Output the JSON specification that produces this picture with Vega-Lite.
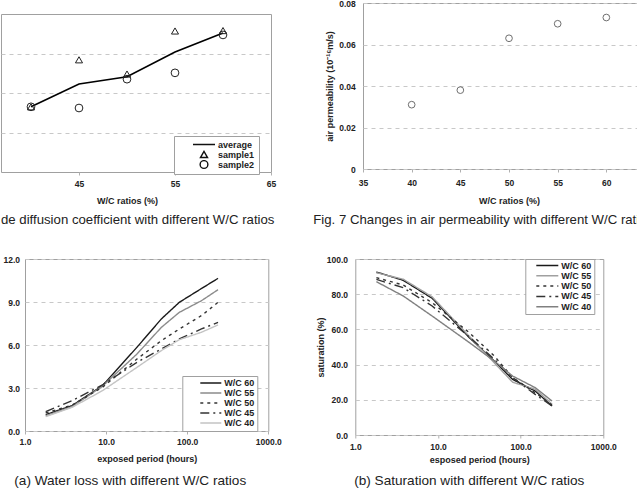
{
  "$schema": "https://vega.github.io/schema/vega-lite/v6.json",
  "padding": {"top": -2, "left": 0, "right": 0, "bottom": 0},
  "background": "white",
  "config": {
    "font": "Liberation Sans",
    "view": {"stroke": "#a0a0a0", "strokeWidth": 1},
    "axis": {
      "labelFont": "Liberation Sans", "labelFontWeight": "bold", "labelFontSize": 8.5, "labelColor": "#222",
      "titleFont": "Liberation Sans", "titleFontWeight": "bold", "titleFontSize": 9, "titleColor": "#222",
      "gridColor": "#c8c8c8", "gridDash": [4, 4], "domain": false, "tickColor": "#b0b0b0", "tickSize": 3,
      "labelFlush": false
    },
    "legend": {
      "labelFont": "Liberation Sans", "labelFontWeight": "bold", "labelFontSize": 9, "labelColor": "#222",
      "strokeColor": "#a0a0a0", "fillColor": "white"
    },
    "title": {"font": "Liberation Sans", "fontSize": 13.2, "fontWeight": "normal", "color": "#222"}
  },
  "datasets": {
    "fig6": [
      {"wc": 40, "series": "average", "v": 1.65}, {"wc": 45, "series": "average", "v": 2.23}, {"wc": 50, "series": "average", "v": 2.41}, {"wc": 55, "series": "average", "v": 3.04}, {"wc": 60, "series": "average", "v": 3.52},
      {"wc": 40, "series": "sample1", "v": 1.65}, {"wc": 45, "series": "sample1", "v": 2.84}, {"wc": 50, "series": "sample1", "v": 2.48}, {"wc": 55, "series": "sample1", "v": 3.57}, {"wc": 60, "series": "sample1", "v": 3.58},
      {"wc": 40, "series": "sample2", "v": 1.65}, {"wc": 45, "series": "sample2", "v": 1.62}, {"wc": 50, "series": "sample2", "v": 2.35}, {"wc": 55, "series": "sample2", "v": 2.51}, {"wc": 60, "series": "sample2", "v": 3.47}
    ],
    "fig7": [
      {"wc": 40, "k": 0.031}, {"wc": 45, "k": 0.038}, {"wc": 50, "k": 0.063}, {"wc": 55, "k": 0.070}, {"wc": 60, "k": 0.073}
    ],
    "loss": [
      {"h": 1.8, "s": "W/C 60", "v": 1.14}, {"h": 3.8, "s": "W/C 60", "v": 1.77}, {"h": 9, "s": "W/C 60", "v": 3.16}, {"h": 24, "s": "W/C 60", "v": 5.84}, {"h": 48, "s": "W/C 60", "v": 7.82}, {"h": 80, "s": "W/C 60", "v": 8.98}, {"h": 150, "s": "W/C 60", "v": 9.94}, {"h": 240, "s": "W/C 60", "v": 10.65},
      {"h": 1.8, "s": "W/C 55", "v": 1.07}, {"h": 3.8, "s": "W/C 55", "v": 1.70}, {"h": 9, "s": "W/C 55", "v": 3.12}, {"h": 24, "s": "W/C 55", "v": 5.37}, {"h": 48, "s": "W/C 55", "v": 7.23}, {"h": 80, "s": "W/C 55", "v": 8.28}, {"h": 150, "s": "W/C 55", "v": 9.09}, {"h": 240, "s": "W/C 55", "v": 9.86},
      {"h": 1.8, "s": "W/C 50", "v": 1.26}, {"h": 3.8, "s": "W/C 50", "v": 1.80}, {"h": 9, "s": "W/C 50", "v": 3.05}, {"h": 24, "s": "W/C 50", "v": 5.02}, {"h": 48, "s": "W/C 50", "v": 6.30}, {"h": 80, "s": "W/C 50", "v": 7.12}, {"h": 150, "s": "W/C 50", "v": 8.05}, {"h": 240, "s": "W/C 50", "v": 8.98},
      {"h": 1.8, "s": "W/C 45", "v": 1.35}, {"h": 3.8, "s": "W/C 45", "v": 2.12}, {"h": 9, "s": "W/C 45", "v": 3.21}, {"h": 24, "s": "W/C 45", "v": 4.79}, {"h": 48, "s": "W/C 45", "v": 5.72}, {"h": 80, "s": "W/C 45", "v": 6.42}, {"h": 150, "s": "W/C 45", "v": 7.12}, {"h": 240, "s": "W/C 45", "v": 7.58},
      {"h": 1.8, "s": "W/C 40", "v": 1.00}, {"h": 3.8, "s": "W/C 40", "v": 1.65}, {"h": 9, "s": "W/C 40", "v": 2.81}, {"h": 24, "s": "W/C 40", "v": 4.44}, {"h": 48, "s": "W/C 40", "v": 5.61}, {"h": 80, "s": "W/C 40", "v": 6.37}, {"h": 150, "s": "W/C 40", "v": 6.89}, {"h": 240, "s": "W/C 40", "v": 7.40}
    ],
    "sat": [
      {"h": 1.8, "s": "W/C 60", "v": 92.6}, {"h": 3.8, "s": "W/C 60", "v": 87.9}, {"h": 8.5, "s": "W/C 60", "v": 77.7}, {"h": 24, "s": "W/C 60", "v": 55.3}, {"h": 48, "s": "W/C 60", "v": 42.0}, {"h": 80, "s": "W/C 60", "v": 31.6}, {"h": 150, "s": "W/C 60", "v": 25.0}, {"h": 240, "s": "W/C 60", "v": 16.5},
      {"h": 1.8, "s": "W/C 55", "v": 92.2}, {"h": 3.8, "s": "W/C 55", "v": 88.5}, {"h": 8.5, "s": "W/C 55", "v": 78.5}, {"h": 24, "s": "W/C 55", "v": 56.0}, {"h": 48, "s": "W/C 55", "v": 41.0}, {"h": 80, "s": "W/C 55", "v": 30.0}, {"h": 150, "s": "W/C 55", "v": 26.0}, {"h": 240, "s": "W/C 55", "v": 17.5},
      {"h": 1.8, "s": "W/C 50", "v": 89.4}, {"h": 3.8, "s": "W/C 50", "v": 85.2}, {"h": 8.5, "s": "W/C 50", "v": 75.2}, {"h": 24, "s": "W/C 50", "v": 58.1}, {"h": 48, "s": "W/C 50", "v": 44.9}, {"h": 80, "s": "W/C 50", "v": 32.6}, {"h": 150, "s": "W/C 50", "v": 24.0}, {"h": 240, "s": "W/C 50", "v": 17.0},
      {"h": 1.8, "s": "W/C 45", "v": 88.4}, {"h": 3.8, "s": "W/C 45", "v": 83.7}, {"h": 8.5, "s": "W/C 45", "v": 73.3}, {"h": 24, "s": "W/C 45", "v": 55.7}, {"h": 48, "s": "W/C 45", "v": 43.0}, {"h": 80, "s": "W/C 45", "v": 32.6}, {"h": 150, "s": "W/C 45", "v": 23.1}, {"h": 240, "s": "W/C 45", "v": 16.5},
      {"h": 1.8, "s": "W/C 40", "v": 87.1}, {"h": 3.8, "s": "W/C 40", "v": 79.0}, {"h": 8.5, "s": "W/C 40", "v": 67.6}, {"h": 24, "s": "W/C 40", "v": 52.5}, {"h": 48, "s": "W/C 40", "v": 42.0}, {"h": 80, "s": "W/C 40", "v": 33.5}, {"h": 150, "s": "W/C 40", "v": 26.9}, {"h": 240, "s": "W/C 40", "v": 19.3}
    ]
  },
  "spacing": 27,
  "resolve": {
    "scale": {"color": "independent", "strokeDash": "independent", "shape": "independent", "size": "independent"},
    "legend": {"color": "independent", "strokeDash": "independent", "shape": "independent", "size": "independent"}
  },
  "vconcat": [
    {
      "spacing": 35,
      "resolve": {
        "scale": {"shape": "independent", "size": "independent"},
        "legend": {"shape": "independent", "size": "independent"}
      },
      "hconcat": [
        {
          "spacing": 9,
          "resolve": {
            "scale": {"shape": "independent", "size": "independent"},
            "legend": {"shape": "independent", "size": "independent"}
          },
          "vconcat": [
            {"width": 1, "height": 1, "view": {"stroke": null}, "data": {"values": []}, "mark": "point"},
            {
              "width": 270, "height": 158,
              "title": {"text": "de diffusion coefficient with different W/C ratios", "orient": "bottom", "anchor": "start", "frame": "group", "offset": 9},
              "data": {"name": "fig6"},
              "layer": [
                {
                  "transform": [{"filter": "datum.series === 'average'"}],
                  "mark": {"type": "line", "color": "black", "strokeWidth": 1.6},
                  "encoding": {
                    "x": {"field": "wc", "type": "quantitative", "scale": {"domain": [36.875, 65], "nice": false, "zero": false},
                          "axis": {"values": [45, 55, 65], "title": "W/C ratios (%)", "labelPadding": 4.7, "titleX": 126, "titleY": 28, "titleBaseline": "middle", "grid": false}},
                    "y": {"field": "v", "type": "quantitative", "scale": {"domain": [0, 4], "nice": false},
                          "axis": {"values": [1, 2, 3], "labels": false, "ticks": false, "title": null, "grid": true}}
                  }
                },
                {
                  "transform": [{"filter": "datum.series !== 'average'"}],
                  "mark": {"type": "point", "filled": false, "color": "#222", "strokeWidth": 1, "opacity": 1},
                  "encoding": {
                    "x": {"field": "wc", "type": "quantitative"},
                    "y": {"field": "v", "type": "quantitative"},
                    "shape": {"field": "series", "type": "nominal",
                              "scale": {"domain": ["average", "sample1", "sample2"], "range": ["stroke", "triangle-up", "circle"]},
                              "legend": {"title": null, "orient": "none", "legendX": 173, "legendY": 122, "padding": 4, "symbolOffset": 14, "labelOffset": 2, "clipHeight": 9, "rowPadding": 0, "symbolStrokeColor": "#111", "symbolStrokeWidth": 1.4, "symbolFillColor": "transparent"}},
                    "size": {"field": "series", "type": "nominal",
                             "scale": {"type": "ordinal", "domain": ["average", "sample1", "sample2"], "range": [484, 50, 60]},
                             "legend": {"title": null, "orient": "none", "legendX": 173, "legendY": 122, "padding": 4, "symbolOffset": 14, "labelOffset": 2, "clipHeight": 9, "rowPadding": 0, "symbolStrokeColor": "#111", "symbolStrokeWidth": 1.4, "symbolFillColor": "transparent"}}
                  }
                }
              ]
            }
          ]
        },
        {
          "width": 292, "height": 166,
          "title": {"text": "Fig. 7 Changes in air permeability with different W/C ratios", "orient": "bottom", "anchor": "start", "frame": "group", "dx": -49.7, "offset": 9},
          "data": {"name": "fig7"},
          "mark": {"type": "point", "filled": false, "color": "#333", "size": 45, "strokeWidth": 1},
          "encoding": {
            "x": {"field": "wc", "type": "quantitative", "scale": {"domain": [35, 65], "nice": false, "zero": false},
                  "axis": {"values": [35, 40, 45, 50, 55, 60, 65], "title": "W/C ratios (%)", "labelPadding": 6.7, "titleY": 31, "titleBaseline": "middle", "grid": false}},
            "y": {"field": "k", "type": "quantitative", "scale": {"domain": [0, 0.08], "nice": false},
                  "axis": {"values": [0, 0.02, 0.04, 0.06, 0.08], "labelExpr": "datum.value == 0 ? '0' : format(datum.value, '.2f')", "ticks": false, "labelPadding": 7.7,
                           "title": "air permeability (10⁻¹⁶m/s)", "titleX": -33.5, "titleBaseline": "middle", "grid": true}}
          }
        }
      ]
    },
    {
      "spacing": 0,
      "resolve": {
        "scale": {"color": "independent", "strokeDash": "independent"},
        "legend": {"color": "independent", "strokeDash": "independent"}
      },
      "hconcat": [
        {"width": 1, "height": 1, "view": {"stroke": null}, "data": {"values": []}, "mark": "point"},
        {
          "spacing": 34.3,
          "resolve": {
            "scale": {"color": "independent", "strokeDash": "independent"},
            "legend": {"color": "independent", "strokeDash": "independent"}
          },
          "hconcat": [
            {
              "width": 243.3, "height": 172,
              "title": {"text": "(a) Water loss with different W/C ratios", "orient": "bottom", "anchor": "middle", "frame": "group", "dx": -16.4, "offset": 10.8, "fontSize": 13.6},
              "data": {"name": "loss"},
              "mark": {"type": "line", "strokeWidth": 1.4},
              "encoding": {
                "x": {"field": "h", "type": "quantitative", "scale": {"type": "log", "domain": [1, 1000], "nice": false},
                      "axis": {"values": [1, 10, 100, 1000], "format": ".1f", "title": "exposed period (hours)", "labelPadding": 3.75, "titleY": 27, "titleBaseline": "middle", "grid": false}},
                "y": {"field": "v", "type": "quantitative", "scale": {"domain": [0, 12], "nice": false},
                      "axis": {"values": [0, 3, 6, 9, 12], "format": ".1f", "title": null, "ticks": false, "labelPadding": 5.5, "grid": true}},
                "color": {"field": "s", "type": "nominal",
                          "scale": {"domain": ["W/C 60", "W/C 55", "W/C 50", "W/C 45", "W/C 40"], "range": ["#1a1a1a", "#8c8c8c", "#333333", "#333333", "#c4c4c4"]},
                          "legend": {"title": null, "orient": "none", "legendX": 157.3, "legendY": 117, "padding": 2.5, "symbolType": "stroke", "symbolSize": 441, "symbolStrokeWidth": 1.5, "clipHeight": 9, "rowPadding": 0, "symbolOffset": 14.5, "labelOffset": 2}},
                "strokeDash": {"field": "s", "type": "nominal",
                               "scale": {"domain": ["W/C 60", "W/C 55", "W/C 50", "W/C 45", "W/C 40"], "range": [[1, 0], [1, 0], [3, 4], [9, 4, 2, 4], [1, 0]]},
                               "legend": {"title": null, "orient": "none", "legendX": 157.3, "legendY": 117, "padding": 2.5, "symbolType": "stroke", "symbolSize": 441, "symbolStrokeWidth": 1.5, "clipHeight": 9, "rowPadding": 0, "symbolOffset": 14.5, "labelOffset": 2}}
              }
            },
            {
              "width": 248, "height": 176,
              "title": {"text": "(b) Saturation with different W/C ratios", "orient": "bottom", "anchor": "middle", "frame": "group", "dx": -10, "offset": 9.8, "fontSize": 13.6},
              "data": {"name": "sat"},
              "mark": {"type": "line", "strokeWidth": 1.4},
              "encoding": {
                "x": {"field": "h", "type": "quantitative", "scale": {"type": "log", "domain": [1, 1000], "nice": false},
                      "axis": {"values": [1, 10, 100, 1000], "format": ".1f", "title": "esposed period (hours)", "labelPadding": 4, "titleY": 24, "titleBaseline": "middle", "grid": false}},
                "y": {"field": "v", "type": "quantitative", "scale": {"domain": [0, 100], "nice": false},
                      "axis": {"values": [0, 20, 40, 60, 80, 100], "format": ".1f", "title": "saturation (%)", "titleX": -34.4, "titleBaseline": "middle", "ticks": false, "labelPadding": 7.7, "grid": true}},
                "color": {"field": "s", "type": "nominal",
                          "scale": {"domain": ["W/C 60", "W/C 55", "W/C 50", "W/C 45", "W/C 40"], "range": ["#1a1a1a", "#a0a0a0", "#333333", "#333333", "#808080"]},
                          "legend": {"title": null, "orient": "none", "legendX": 170, "legendY": 0, "padding": 2, "symbolType": "stroke", "symbolSize": 484, "symbolStrokeWidth": 1.5, "clipHeight": 9, "rowPadding": 0.3, "symbolOffset": 8, "labelOffset": 2}},
                "strokeDash": {"field": "s", "type": "nominal",
                               "scale": {"domain": ["W/C 60", "W/C 55", "W/C 50", "W/C 45", "W/C 40"], "range": [[1, 0], [1, 0], [3, 4], [9, 4, 2, 4], [1, 0]]},
                               "legend": {"title": null, "orient": "none", "legendX": 170, "legendY": 0, "padding": 2, "symbolType": "stroke", "symbolSize": 484, "symbolStrokeWidth": 1.5, "clipHeight": 9, "rowPadding": 0.3, "symbolOffset": 8, "labelOffset": 2}}
              }
            }
          ]
        }
      ]
    }
  ]
}
